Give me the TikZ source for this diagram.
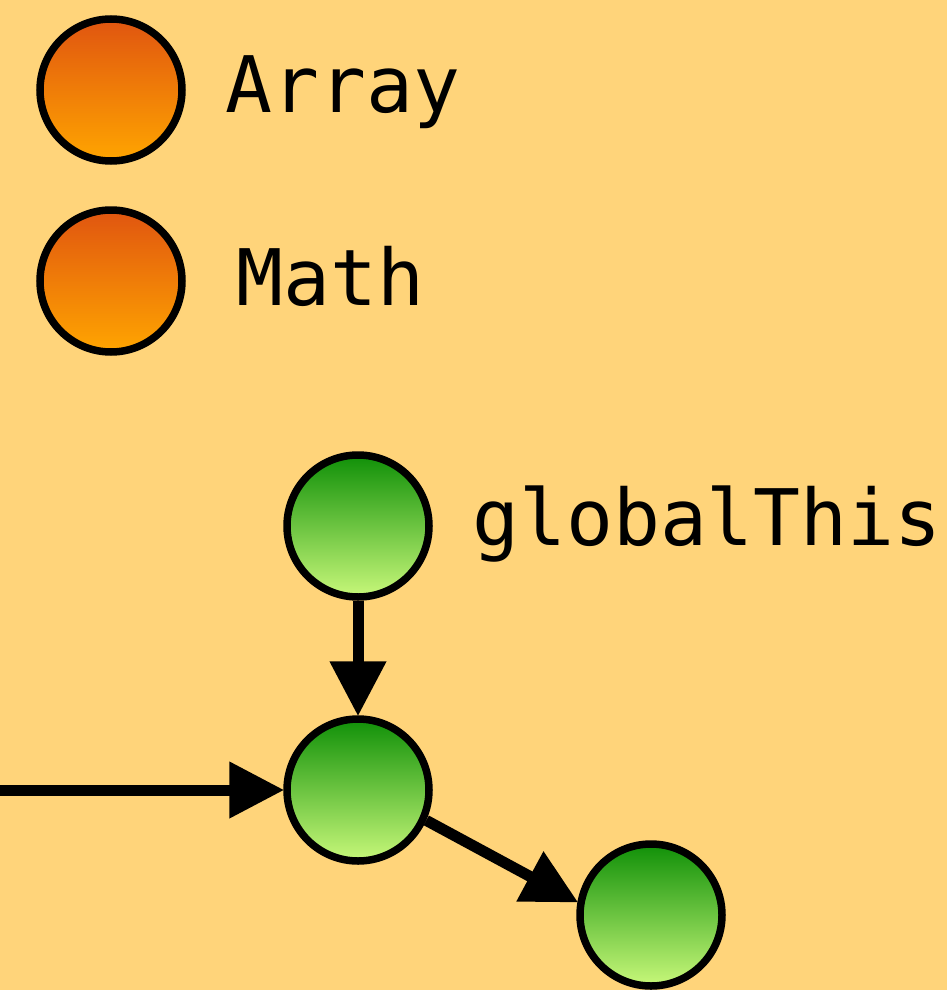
\documentclass[tikz,border=0pt]{standalone}
\usepackage{fontspec}
\setmonofont{DejaVu Sans Mono}
\usetikzlibrary{arrows.meta}
\definecolor{bg}{HTML}{FFD47A}
\definecolor{orangetop}{HTML}{E05510}
\definecolor{orangebot}{HTML}{FFA500}
\definecolor{greentop}{HTML}{109008}
\definecolor{greenbot}{HTML}{C8F87A}
\tikzset{
  orangeball/.style={circle, draw=black, line width=7.5pt, inner sep=0pt, minimum size=142pt, top color=orangetop, bottom color=orangebot},
  greenball/.style={circle, draw=black, line width=7.5pt, inner sep=0pt, minimum size=142pt, top color=greentop, bottom color=greenbot},
  lbl/.style={anchor=base west, inner sep=0pt, font=\ttfamily\fontsize{78}{78}\selectfont},
  conn/.style={line width=11pt, -{Triangle[length=55pt,width=54pt]}, shorten >=-1pt}
}
\begin{document}
\begin{tikzpicture}[x=1pt,y=-1pt]
\fill[bg] (0,0) rectangle (947,990);
\clip (0,0) rectangle (947,990);
\node[orangeball] (array) at (111,90) {};
\node[lbl] (arraylbl) at (225,112) {Array};
\node[orangeball] (math) at (111,281) {};
\node[lbl] (mathlbl) at (236,305) {Math};
\node[greenball] (global) at (358,526) {};
\node[lbl] (globallbl) at (472,545) {globalThis};
\node[greenball] (mid) at (358,790) {};
\node[greenball] (low) at (651,915) {};
\coordinate (left) at (-5,790);
\draw[conn] (global) -- (mid);
\draw[conn] (left) -- (mid);
\draw[conn] (mid.-24) -- (low.170);
\end{tikzpicture}
\end{document}
